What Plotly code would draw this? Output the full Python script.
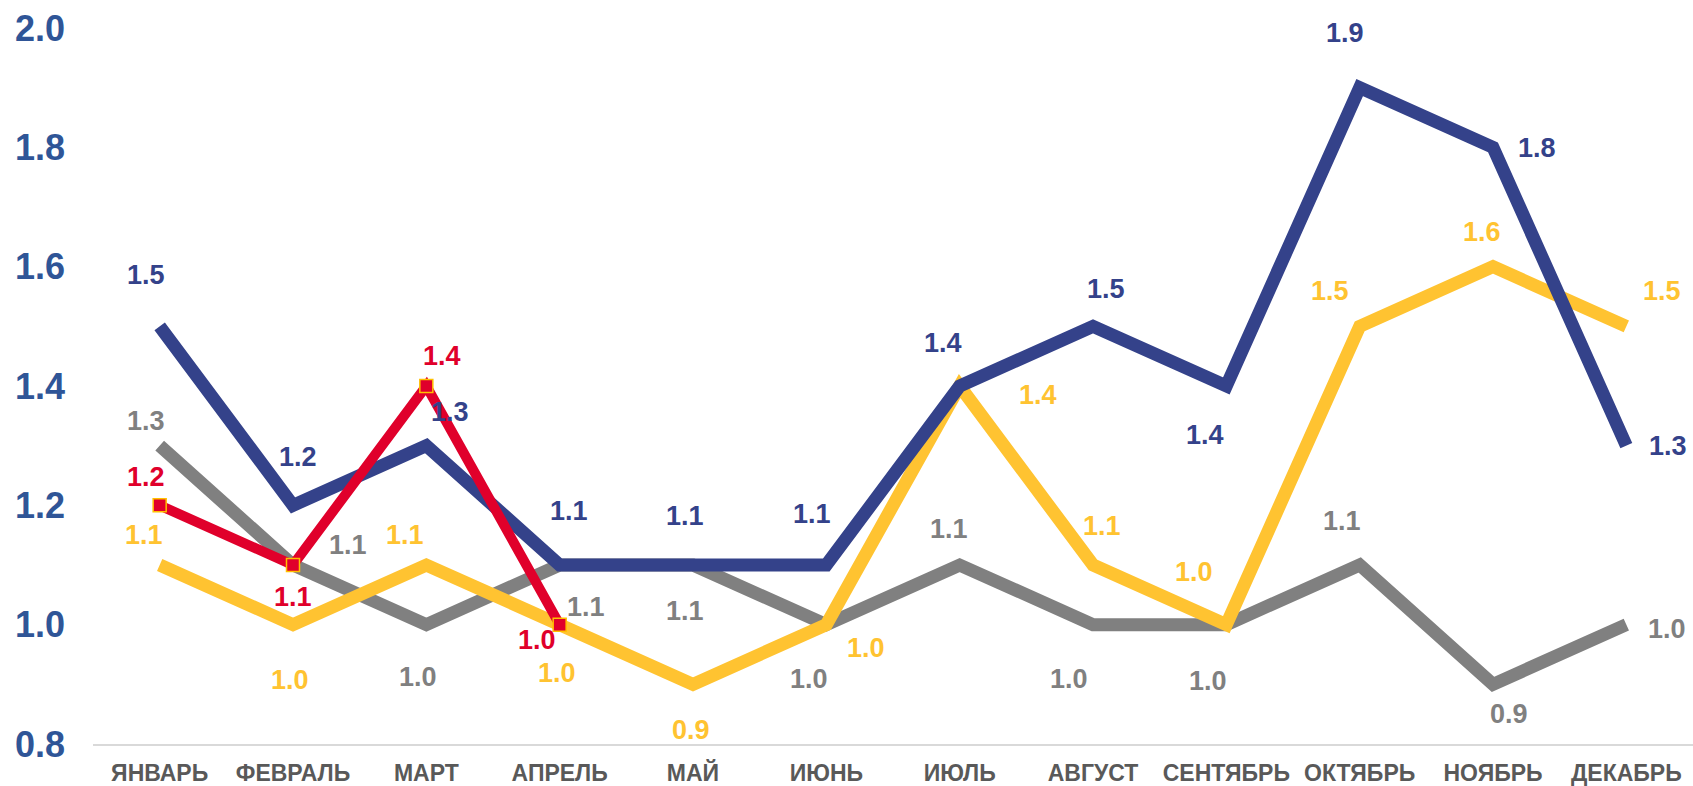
import plotly.graph_objects as go

months = ["ЯНВАРЬ", "ФЕВРАЛЬ", "МАРТ", "АПРЕЛЬ", "МАЙ", "ИЮНЬ", "ИЮЛЬ",
          "АВГУСТ", "СЕНТЯБРЬ", "ОКТЯБРЬ", "НОЯБРЬ", "ДЕКАБРЬ"]
blue_vals = [1.5, 1.2, 1.3, 1.1, 1.1, 1.1, 1.4, 1.5, 1.4, 1.9, 1.8, 1.3]
gray_vals = [1.3, 1.1, 1.0, 1.1, 1.1, 1.0, 1.1, 1.0, 1.0, 1.1, 0.9, 1.0]
yellow_vals = [1.1, 1.0, 1.1, 1.0, 0.9, 1.0, 1.4, 1.1, 1.0, 1.5, 1.6, 1.5]
red_vals = [1.2, 1.1, 1.4, 1.0]
y_ticks = [0.8, 1.0, 1.2, 1.4, 1.6, 1.8, 2.0]

BLUE = "#34428A"
GRAY = "#808080"
YELLOW = "#FFC331"
RED = "#E0002B"

# label offsets in pixels (dx right, dy down) - styling only
off_blue = [(-14, -51), (5, -48), (24, -34), (9, -54), (-8, -49), (-14, -51),
            (-17, -43), (13, -37), (-21, 49), (-15, -55), (44, 1), (42, 0)]
off_gray = [(-14, -25), (55, -20), (-8, 52), (26, 42), (-8, 46), (-17, 54),
            (-11, -36), (-24, 54), (-18, 56), (-18, -44), (16, 30), (41, 4)]
off_yellow = [(-16, -30), (-3, 55), (-21, -30), (-3, 48), (-2, 46), (40, 23),
              (78, 9), (9, -39), (-32, -53), (-30, -35), (-11, -35), (36, -35)]
off_red = [(-14, -28), (0, 32), (16, -30), (-23, 15)]

FONT = "Liberation Sans, Arial, sans-serif"

fig = go.Figure()
series = [
    (gray_vals, GRAY, 13, off_gray, False),
    (yellow_vals, YELLOW, 13, off_yellow, False),
    (blue_vals, BLUE, 13, off_blue, False),
    (red_vals, RED, 10, off_red, True),
]
annotations = []
for vals, col, w, offs, markers in series:
    x = list(range(len(vals)))
    fig.add_trace(go.Scatter(
        x=x, y=vals, mode="lines+markers" if markers else "lines",
        line=dict(color=col, width=w),
        marker=dict(symbol="square", size=13, color=RED,
                    line=dict(color="#FFC000", width=1.5)) if markers else None,
        hoverinfo="skip", showlegend=False, cliponaxis=False))
    for i, v in enumerate(vals):
        dx, dy = offs[i]
        annotations.append(dict(
            x=i, y=v, xref="x", yref="y", text=f"{v:.1f}", showarrow=False,
            xshift=dx, yshift=-dy, xanchor="center", yanchor="middle",
            font=dict(family=FONT, size=27, color=col, weight="bold")))

fig.update_layout(
    width=1693, height=786,
    margin=dict(l=93, r=0, t=28, b=40),
    paper_bgcolor="white", plot_bgcolor="white",
    annotations=annotations,
    xaxis=dict(
        range=[-0.5, 11.5], tickmode="array", tickvals=list(range(12)),
        ticktext=months, showgrid=False, zeroline=False,
        showline=True, linecolor="#D9D9D9", linewidth=2,
        tickfont=dict(family=FONT, size=23, color="#595959", weight="bold"),
        ticks="", ticklabelstandoff=7),
    yaxis=dict(
        range=[0.8, 2.0], tickmode="array", tickvals=y_ticks,
        ticktext=[f"{t:.1f}" for t in y_ticks], showgrid=False, zeroline=False,
        showline=False, ticks="", ticklabelstandoff=27,
        tickfont=dict(family=FONT, size=36, color="#2F5597", weight="bold")),
)

fig.write_html("out.html")
